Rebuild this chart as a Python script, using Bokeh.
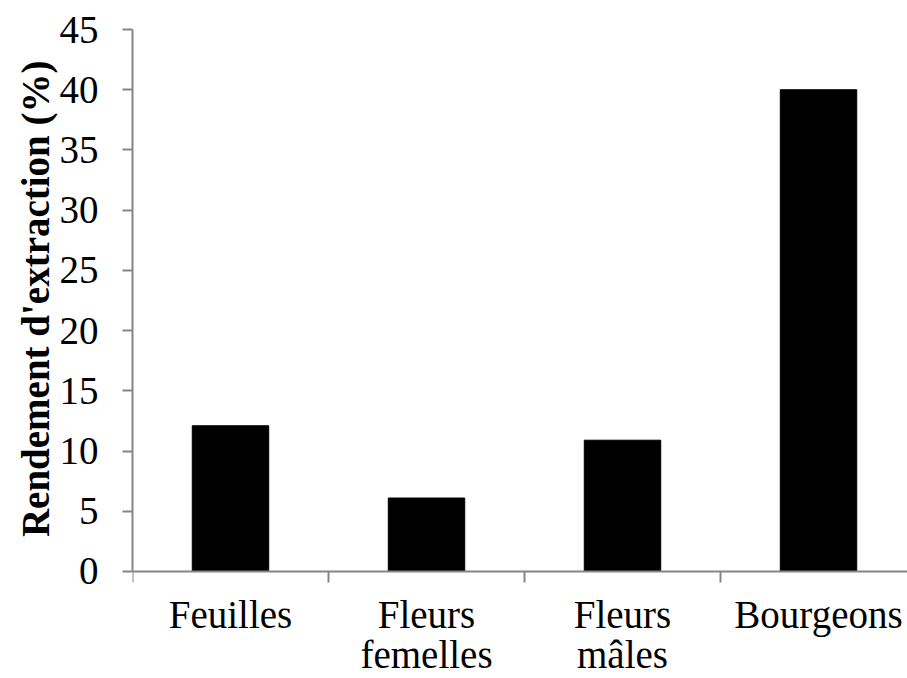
from bokeh.plotting import figure
from bokeh.models import Range1d, FixedTicker, ColumnDataSource, Title
from bokeh.embed import file_html
from bokeh.resources import INLINE

categories = ["Feuilles", "Fleurs femelles", "Fleurs mâles", "Bourgeons"]
tick_labels = ["Feuilles", "Fleurs\nfemelles", "Fleurs\nmâles", "Bourgeons"]
rendement = [12.1, 6.1, 10.9, 40.0]
y_ticks = [0, 5, 10, 15, 20, 25, 30, 35, 40, 45]
y_title = "Rendement d'extraction (%)"

xs = [i + 0.5 for i in range(len(categories))]
src = ColumnDataSource(dict(x=xs, top=rendement, cat=categories))

FONT = "Liberation Serif"
AXIS_COLOR = "#868686"

p = figure(width=907, height=678, output_backend="svg", toolbar_location=None,
           x_range=Range1d(0, 3.954), y_range=Range1d(-8.884, 45),
           min_border_left=132, min_border_top=29, min_border_right=0,
           min_border_bottom=0)
p.outline_line_color = None
p.grid.grid_line_color = None

p.vbar(x="x", top="top", width=0.39, bottom=0, source=src,
       fill_color="black", line_color="black", line_width=1)

# x axis pinned at y=0: boundary ticks as minor ticks, labels at category centres
p.xaxis.fixed_location = 0
p.xaxis.ticker = FixedTicker(ticks=xs, minor_ticks=list(range(len(categories) + 1)))
p.xaxis.major_label_overrides = {x: lab for x, lab in zip(xs, tick_labels)}
p.xaxis.major_tick_out = 0
p.xaxis.major_tick_in = 0
p.xaxis.minor_tick_out = 11
p.xaxis.minor_tick_in = 0
p.xaxis.minor_tick_line_color = AXIS_COLOR
p.xaxis.minor_tick_line_width = 2
p.xaxis.axis_line_color = AXIS_COLOR
p.xaxis.axis_line_width = 2
p.xaxis.major_label_text_font = FONT
p.xaxis.major_label_text_font_size = "39px"
p.xaxis.major_label_text_color = "black"
p.xaxis.major_label_text_line_height = 0.93
p.xaxis.major_label_standoff = 11

# y axis (drawn only from 0 to 45)
p.yaxis.bounds = (0, 45)
p.yaxis.ticker = FixedTicker(ticks=y_ticks)
p.yaxis.minor_tick_line_color = None
p.yaxis.major_tick_out = 10
p.yaxis.major_tick_in = 0
p.yaxis.major_tick_line_color = AXIS_COLOR
p.yaxis.major_tick_line_width = 2
p.yaxis.axis_line_color = AXIS_COLOR
p.yaxis.axis_line_width = 2
p.yaxis.major_label_text_font = FONT
p.yaxis.major_label_text_font_size = "39px"
p.yaxis.major_label_text_color = "black"
p.yaxis.major_label_standoff = 24

# y axis title, placed alongside the 0-45 part of the axis
p.add_layout(Title(text=y_title, align="right", offset=31,
                   text_font=FONT, text_font_size="39px",
                   text_font_style="bold", text_color="black",
                   standoff=0), "left")

open("out.html", "w").write(file_html(p, INLINE))
